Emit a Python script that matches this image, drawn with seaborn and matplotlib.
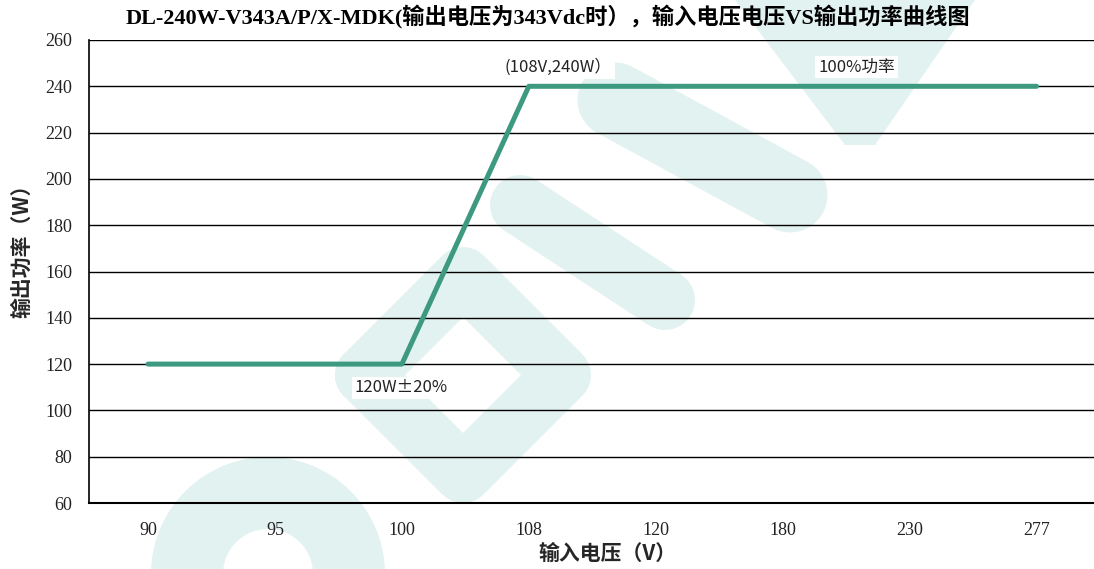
import numpy as np
import pandas as pd
import matplotlib
matplotlib.use('Agg')
import matplotlib.pyplot as plt
import seaborn as sns

# data
voltages = ['90', '95', '100', '108', '120', '180', '230', '277']
power = [120, 120, 120, 240, 240, 240, 240, 240]
y_ticks = [60, 80, 100, 120, 140, 160, 180, 200, 220, 240, 260]

title = 'DL-240W-V343A/P/X-MDK(输出电压为343Vdc时），输入电压电压VS输出功率曲线图'
x_title = '输入电压（V）'
y_title = '输出功率（W）'
notes = ['(108V,240W）', '100%功率', '120W±20%']


def draw_chart():
    sns.set_theme(style='white')
    plt.rcParams['font.family'] = ['Liberation Serif', 'Noto Sans CJK SC', 'DejaVu Sans']
    plt.rcParams['axes.unicode_minus'] = False

    df = pd.DataFrame({'voltage': voltages, 'power': power})

    fig = plt.figure(figsize=(10.94, 5.69), dpi=100)
    fig.patch.set_facecolor('white')

    # faint logo watermark behind the chart (pixel coords)
    bg = fig.add_axes([0, 0, 1, 1], zorder=0)
    bg.set_xlim(0, 1094)
    bg.set_ylim(569, 0)
    bg.axis('off')
    wm = '#e2f2f0'
    px = 0.72
    t = np.linspace(0, np.pi, 60)
    bg.plot(268 + 81 * np.cos(t), 574 - 81 * np.sin(t), color=wm, lw=72 * px, solid_capstyle='butt')
    bg.plot([364, 463, 562, 463, 364], [375, 276, 375, 474, 375], color=wm, lw=58 * px,
            solid_joinstyle='round')
    bg.plot([615, 790], [100, 195], color=wm, lw=75 * px, solid_capstyle='round')
    bg.plot([520, 665], [205, 300], color=wm, lw=60 * px, solid_capstyle='round')
    bg.fill([735, 975, 875, 845], [0, 0, 145, 145], color=wm, lw=0)

    ax = fig.add_axes([89 / 1094, 66 / 569, 1011 / 1094, 463 / 569], zorder=1)
    ax.set_facecolor('none')

    sns.lineplot(data=df, x='voltage', y='power', sort=False, color='#3d9a80',
                 linewidth=3.6, ax=ax)

    ax.set_ylim(60, 260)
    ax.set_yticks(y_ticks)
    ax.set_xlim(-0.465, 7.5)
    ax.yaxis.grid(True, color='black', linewidth=1.0)
    ax.xaxis.grid(False)
    ax.set_axisbelow(True)
    for side in ['top', 'right']:
        ax.spines[side].set_visible(False)
    ax.spines['left'].set_color('black')
    ax.spines['left'].set_linewidth(1.2)
    ax.spines['bottom'].set_color('black')
    ax.spines['bottom'].set_linewidth(1.5)
    ax.tick_params(axis='both', length=0, labelsize=13, colors='#222222')
    ax.tick_params(axis='x', pad=14)
    ax.tick_params(axis='y', pad=12)
    ax.set_xlabel('')
    ax.set_ylabel('')

    # titles
    fig.text(548 / 1094, 1 - 16 / 569, title, ha='center', va='center', fontsize=16,
             fontweight='bold', color='black')
    fig.text(607 / 1094, 1 - 553 / 569, x_title, ha='center', va='center', fontsize=15,
             fontweight='bold', family=['Noto Sans CJK SC'])
    fig.text(22 / 1094, 1 - 246 / 569, y_title, ha='center', va='center', fontsize=15,
             fontweight='bold', rotation=90, family=['Noto Sans CJK SC'])

    box = dict(facecolor='white', edgecolor='none', pad=2)
    ax.text(2.81, 248.3, notes[0], ha='left', va='center', fontsize=12,
            family=['Noto Sans CJK SC'], color='#222222', bbox=box)
    ax.text(5.28, 248.3, notes[1], ha='left', va='center', fontsize=12,
            family=['Noto Sans CJK SC'], color='#222222', bbox=box)
    ax.text(1.63, 109.7, notes[2], ha='left', va='center', fontsize=12,
            family=['Noto Sans CJK SC'], color='#222222', bbox=box)

    fig.savefig('out.png', dpi=100)


if __name__ == "__main__":
    draw_chart()
